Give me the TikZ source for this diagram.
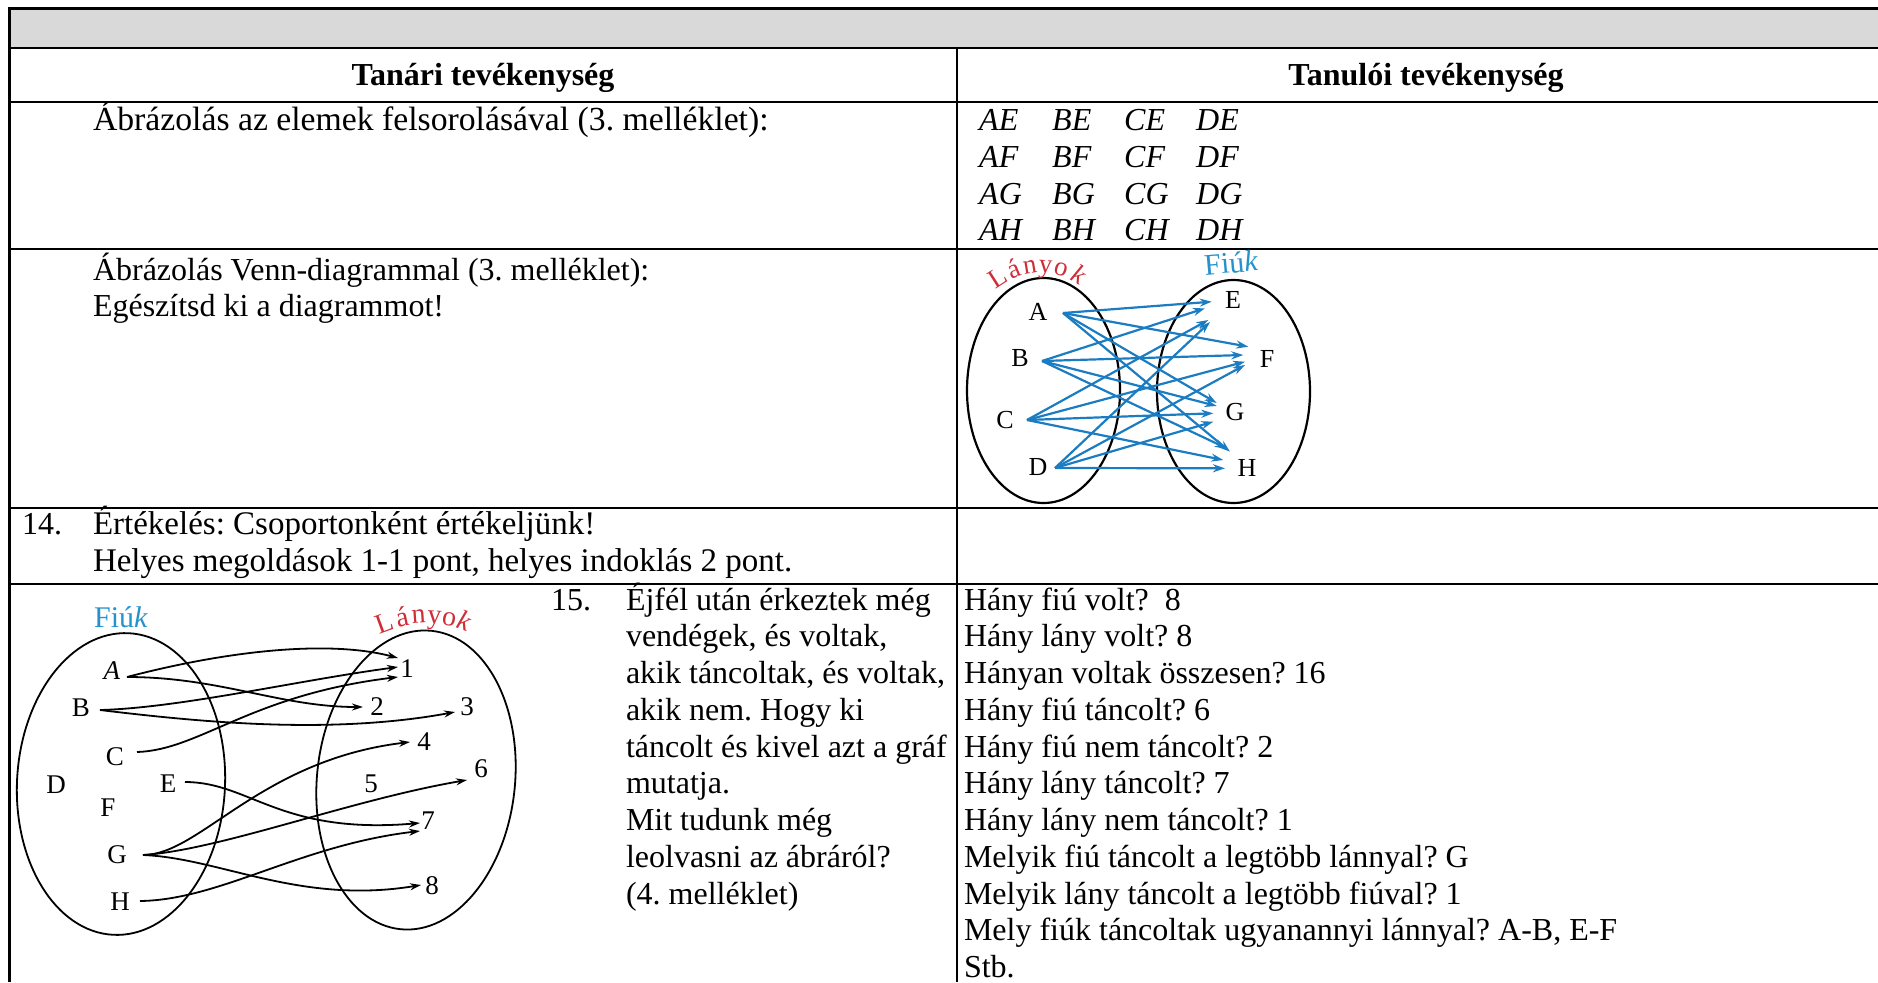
\documentclass[tikz,border=0pt]{standalone}
\usepackage{fontspec}
\setmainfont{Liberation Serif}[Ligatures={CommonOff}]
\usetikzlibrary{arrows.meta}
\definecolor{hdrgray}{RGB}{217,217,217}
\definecolor{vennblue}{RGB}{28,124,194}
\definecolor{labred}{RGB}{207,45,55}
\definecolor{labblue}{RGB}{38,146,205}
\frenchspacing
\begin{document}
\begin{tikzpicture}[x=1pt,y=-1pt,
  grid/.style={line width=2.2pt},
  body/.style={font=\fontsize{32}{36.8}\selectfont, anchor=base west, inner sep=0pt, outer sep=0pt},
  wide/.style={body, font=\fontsize{33.7}{36.8}\selectfont},
  wider/.style={body, font=\fontsize{33}{36.8}\selectfont},
  head/.style={font=\fontsize{32}{36.8}\selectfont\bfseries, anchor=base, inner sep=0pt},
  pair/.style={font=\fontsize{32}{36.8}\selectfont\itshape, anchor=base west, inner sep=0pt},
  vlbl/.style={font=\fontsize{26}{26}\selectfont, inner sep=0pt},
  glbl/.style={font=\fontsize{27}{27}\selectfont, inner sep=0pt},
  redl/.style={font=\fontsize{27}{27}\selectfont, text=labred, anchor=base, inner sep=0pt},
  bluel/.style={font=\fontsize{30}{30}\selectfont, text=labblue, anchor=base, inner sep=0pt},
  varr/.style={vennblue, line width=2.2pt, -{Stealth[length=12pt,width=8pt]}},
  garr/.style={black, line width=1.8pt, -{Stealth[length=11pt,width=7pt]}},
  ell/.style={line width=2.2pt}
]
\useasboundingbox (0,0) rectangle (1878,982);
% ---------- table ----------
\fill[hdrgray] (9.5,8.5) rectangle (1878,48);
\foreach \yy in {8.5,48,102,249,508,584}{\draw[grid] (8.4,\yy) -- (1878,\yy);}
\draw[grid] (9.5,7.4) -- (9.5,982);
\draw[grid] (957,48) -- (957,982);
% headers
\node[head] (h1) at (483,85) {Tanári tevékenység};
\node[head] (h2) at (1426,85) {Tanulói tevékenység};
% row 1
\node[wide] (r1l) at (93,130.5) {Ábrázolás az elemek felsorolásával (3. melléklet):};
\foreach \r/\yy in {E/130.5,F/167.3,G/204,H/240.8}{
  \node[pair] (pA\r) at (979,\yy) {A\r};
  \node[pair] (pB\r) at (1052,\yy) {B\r};
  \node[pair] (pC\r) at (1124,\yy) {C\r};
  \node[pair] (pD\r) at (1196,\yy) {D\r};
}
% row 2
\node[body] (r2a) at (93,280) {Ábrázolás Venn-diagrammal (3. melléklet):};
\node[body] (r2b) at (93,316.8) {Egészítsd ki a diagrammot!};
% row 3
\node[body] (r3n) at (22,534.5) {14.};
\node[wider] (r3a) at (93,534.5) {Értékelés: Csoportonként értékeljünk!};
\node[wider] (r3b) at (93,571.2) {Helyes megoldások 1-1 pont, helyes indoklás 2 pont.};
% row 4 middle
\node[body] (m0) at (551,610) {15.};
\node[body] (m1) at (626,610) {Éjfél után érkeztek még};
\node[body] (m2) at (626,646.75) {vendégek, és voltak,};
\node[body] (m3) at (626,683.5) {akik táncoltak, és voltak,};
\node[body] (m4) at (626,720.25) {akik nem. Hogy ki};
\node[body] (m5) at (626,757) {táncolt és kivel azt a gráf};
\node[body] (m6) at (626,793.75) {mutatja.};
\node[body] (m7) at (626,830.5) {Mit tudunk még};
\node[body] (m8) at (626,867.25) {leolvasni az ábráról?};
\node[body] (m9) at (626,904) {(4. melléklet)};
% row 4 right
\node[body] (q1) at (964,610) {Hány fiú volt?\ \ 8};
\node[body] (q2) at (964,646.75) {Hány lány volt? 8};
\node[body] (q3) at (964,683.5) {Hányan voltak összesen? 16};
\node[body] (q4) at (964,720.25) {Hány fiú táncolt? 6};
\node[body] (q5) at (964,757) {Hány fiú nem táncolt? 2};
\node[body] (q6) at (964,793.75) {Hány lány táncolt? 7};
\node[body] (q7) at (964,830.5) {Hány lány nem táncolt? 1};
\node[body] (q8) at (964,867.25) {Melyik fiú táncolt a legtöbb lánnyal? G};
\node[body] (q9) at (964,904) {Melyik lány táncolt a legtöbb fiúval? 1};
\node[body] (q10) at (964,940.75) {Mely fiúk táncoltak ugyanannyi lánnyal? A-B, E-F};
\node[body] (q11) at (964,977.5) {Stb.};
% ---------- Venn diagram (top right) ----------
\draw[ell] (1043.5,390.5) ellipse [x radius=76.5, y radius=112.5];
\draw[ell] (1233.5,391.5) ellipse [x radius=76.5, y radius=111.5];
\node[redl, rotate=32.6] (lv1) at (1002,285) {L};
\node[redl, rotate=21.9] (lv2) at (1017,277.3) {á};
\node[redl, rotate=9.5] (lv3) at (1031,273.3) {n};
\node[redl, rotate=-3.8] (lv4) at (1045,272.6) {y};
\node[redl, rotate=-16.7] (lv5) at (1059,275.2) {o};
\node[redl, rotate=-29.5] (lv6) at (1075,282.1) {\itshape k};
\node[bluel, rotate=5] (fv) at (1232,273) {Fiú\textit{k}};
\node[vlbl] (vA) at (1038,312) {A};
\node[vlbl] (vB) at (1020,358) {B};
\node[vlbl] (vC) at (1005,420) {C};
\node[vlbl] (vD) at (1038,467) {D};
\node[vlbl] (vE) at (1233,300) {E};
\node[vlbl] (vF) at (1267,359) {F};
\node[vlbl] (vG) at (1235,412) {G};
\node[vlbl] (vH) at (1247,468) {H};
\coordinate (sA) at (1063,313);
\coordinate (sB) at (1042,361);
\coordinate (sC) at (1027,420);
\coordinate (sD) at (1055,468);
\foreach \s/\t/\x/\y in {A/E/1211.7/301.7, B/E/1205/308.3, C/E/1208.3/320, D/E/1210/322,
  A/F/1248.3/346.7, B/F/1243.3/355, C/F/1245/361.7, D/F/1245/365,
  A/G/1216.7/403, B/G/1216.7/406, C/G/1213.3/413.3, D/G/1213.3/421.7,
  A/H/1230/451.7, B/H/1226.7/448.3, C/H/1223.3/460, D/H/1225/468.3}
{\coordinate (e\s\t) at (\x,\y); \draw[varr] (s\s) -- (e\s\t);}
% ---------- graph (bottom left) ----------
\draw[line width=1.8pt, rotate around={-3:(121,784)}] (121,784) ellipse [x radius=104, y radius=151];
\draw[line width=1.8pt, rotate around={-6:(416,780)}] (416,780) ellipse [x radius=99, y radius=150];
\node[bluel] (fg) at (121,627) {Fiú\textit{k}};
\node[redl, font=\fontsize{28}{28}\selectfont, rotate=20] (lg1) at (388,632) {L};
\node[redl, font=\fontsize{28}{28}\selectfont, rotate=12] (lg2) at (404,626) {á};
\node[redl, font=\fontsize{28}{28}\selectfont, rotate=4] (lg3) at (419,623.5) {n};
\node[redl, font=\fontsize{28}{28}\selectfont, rotate=-3] (lg4) at (434,623.5) {y};
\node[redl, font=\fontsize{28}{28}\selectfont, rotate=-10] (lg5) at (448,625.5) {o};
\node[redl, font=\fontsize{28}{28}\selectfont, rotate=-20] (lg6) at (461,630) {\itshape k};
\node[glbl] (gAl) at (112,671) {\textit{A}};
\node[glbl] (gBl) at (81,708) {B};
\node[glbl] (gCl) at (115,757) {C};
\node[glbl] (gDl) at (56,785) {D};
\node[glbl] (gEl) at (168,784) {E};
\node[glbl] (gFl) at (108,808) {F};
\node[glbl] (gGl) at (117,855) {G};
\node[glbl] (gHl) at (120,902) {H};
\node[glbl] (n1) at (407,669) {1};
\node[glbl] (n2) at (377,707) {2};
\node[glbl] (n3) at (467,707) {3};
\node[glbl] (n4) at (424,742) {4};
\node[glbl] (n5) at (371,784) {5};
\node[glbl] (n6) at (481,769) {6};
\node[glbl] (n7) at (428,821) {7};
\node[glbl] (n8) at (432,886) {8};
\coordinate (gA) at (127,677);
\coordinate (gB) at (100,710);
\coordinate (gC) at (137,752);
\coordinate (gE) at (185,782);
\coordinate (gG) at (143,855);
\coordinate (gH) at (140,901);
\coordinate (t1a) at (398,658);
\coordinate (t1b) at (398,667);
\coordinate (t1c) at (398,677);
\coordinate (t2) at (363,707);
\coordinate (t3) at (455,712);
\coordinate (t4) at (410,742);
\coordinate (t6) at (467,780);
\coordinate (t7a) at (420,823);
\coordinate (t7b) at (420,831);
\coordinate (t8) at (421,885);
\draw[garr] (gA) .. controls (230,650) and (330,640) .. (t1a);
\draw[garr] (gA) .. controls (220,677) and (280,707) .. (t2);
\draw[garr] (gB) .. controls (180,708) and (300,680) .. (t1b);
\draw[garr] (gB) .. controls (200,722) and (330,735) .. (t3);
\draw[garr] (gC) .. controls (200,750) and (250,695) .. (t1c);
\draw[garr] (gE) .. controls (250,782) and (280,835) .. (t7a);
\draw[garr] (gG) .. controls (200,855) and (260,760) .. (t4);
\draw[garr] (gG) .. controls (220,850) and (350,800) .. (t6);
\draw[garr] (gG) .. controls (220,858) and (300,905) .. (t8);
\draw[garr] (gH) .. controls (220,900) and (300,845) .. (t7b);
\end{tikzpicture}
\end{document}
